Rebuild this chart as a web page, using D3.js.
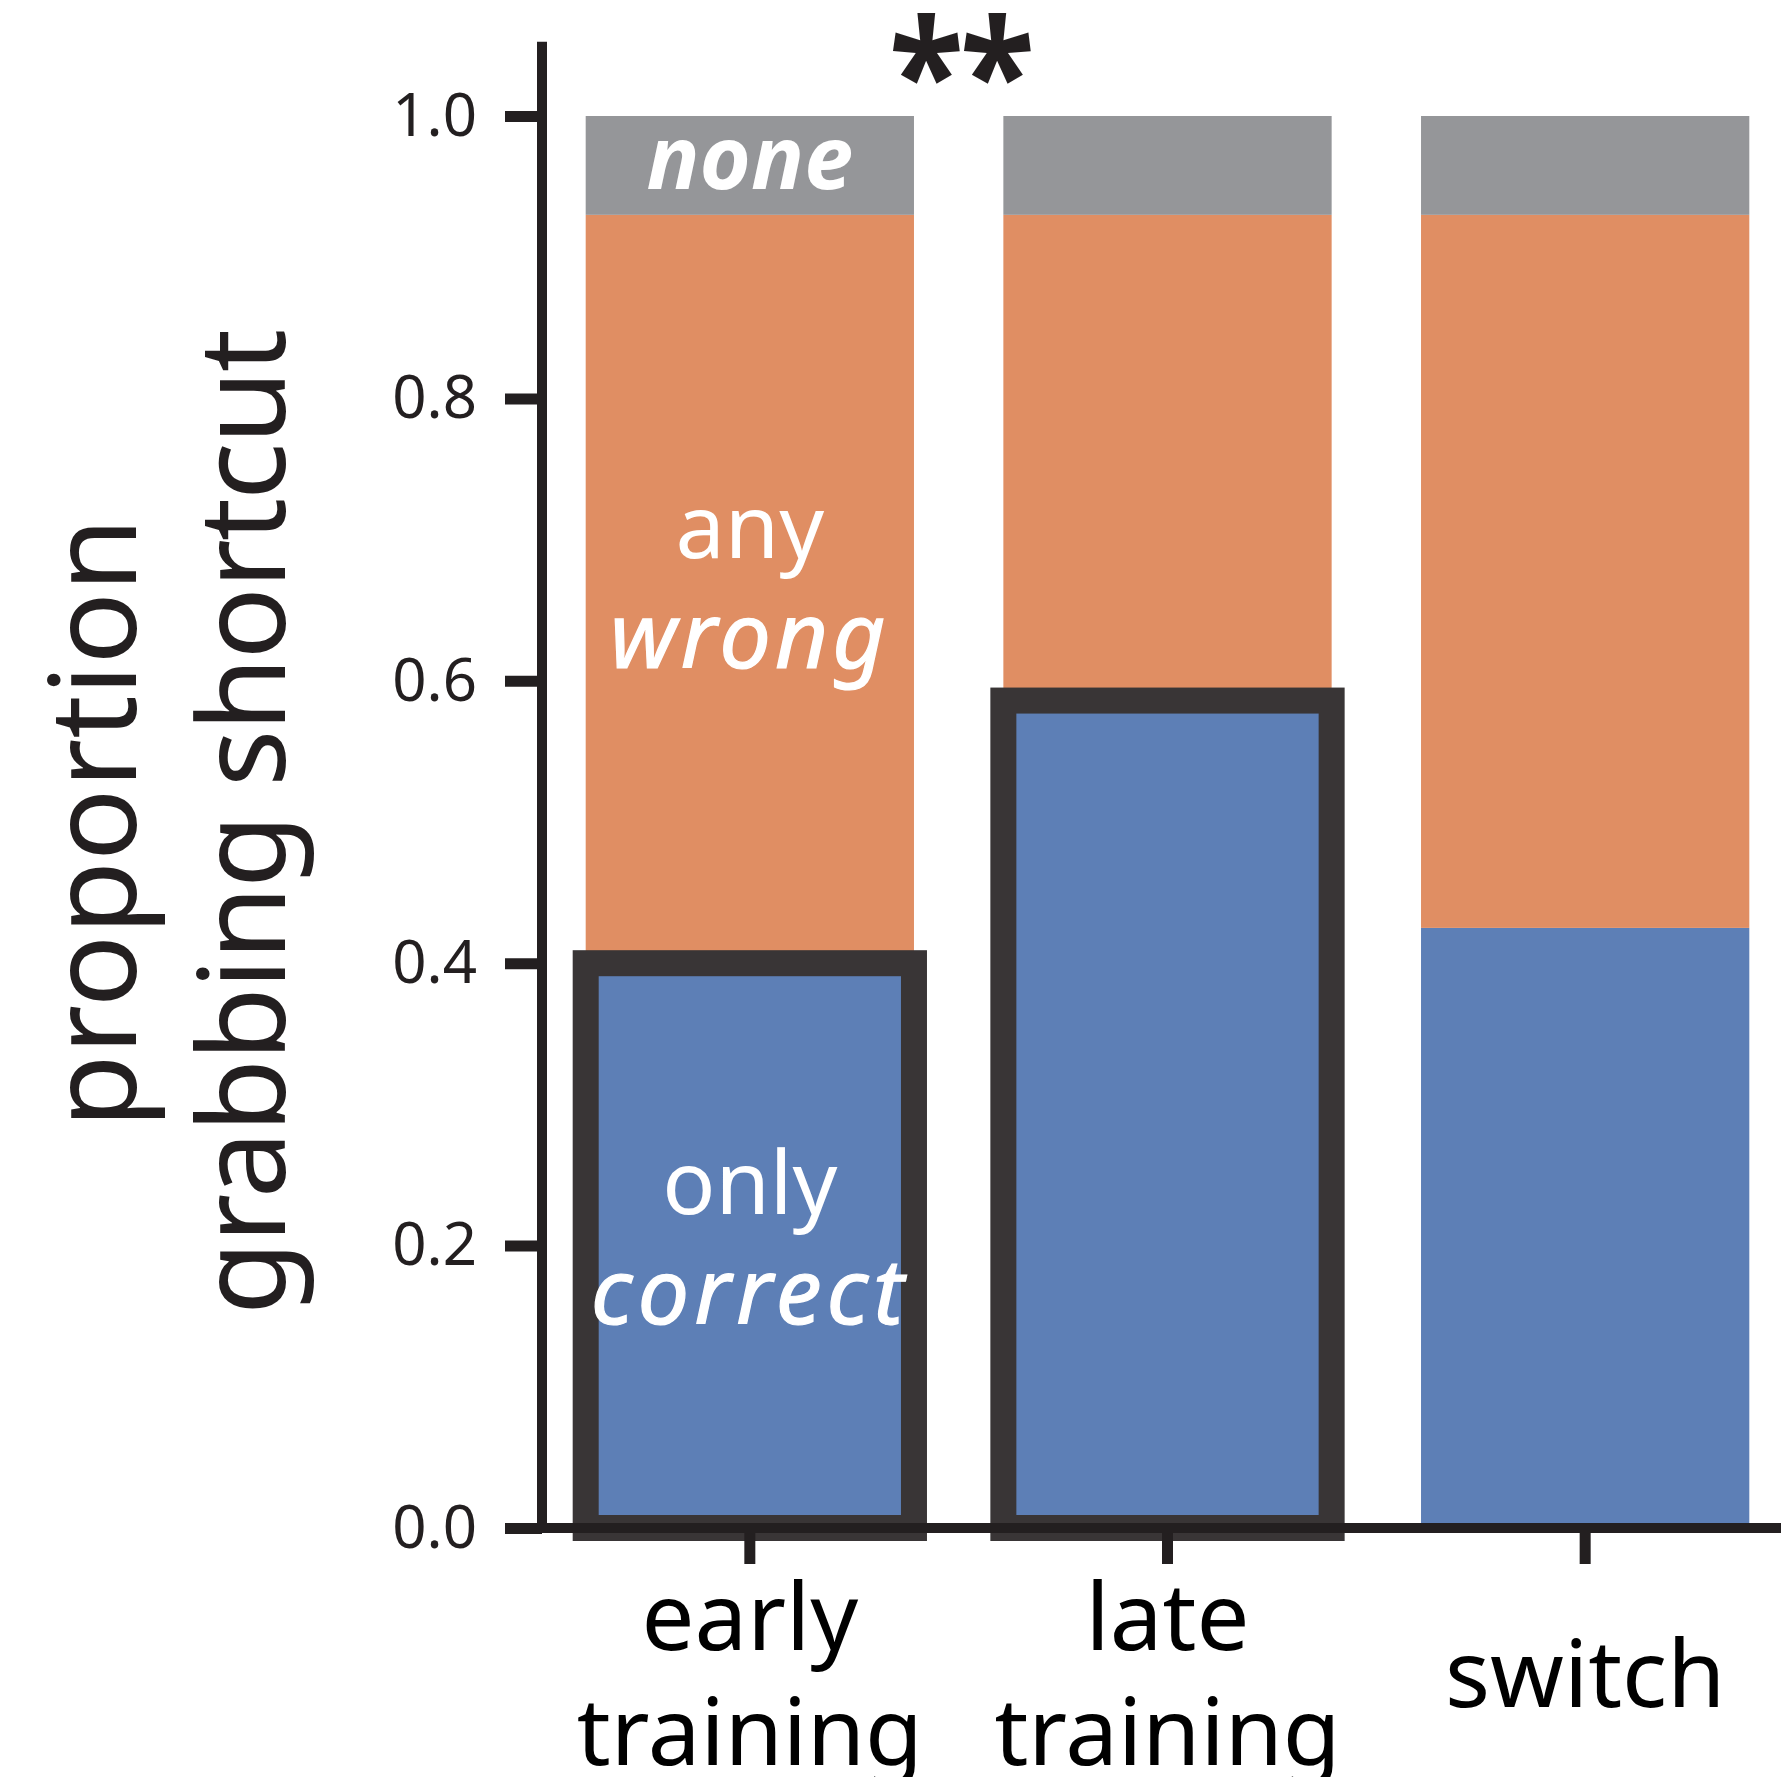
<!DOCTYPE html>
<html>
<head>
<meta charset="utf-8">
<script src="https://cdn.jsdelivr.net/npm/d3@7"></script>
<style>
  html, body { margin: 0; padding: 0; background: #ffffff; }
  svg { display: block; }
</style>
</head>
<body>
<script>
// ---- data ----
const categories = ["early training", "late training", "switch"];
const categoryLines = [["early", "training"], ["late", "training"], ["switch"]];
const onlyCorrect = [0.40, 0.586, 0.425];
const anyWrong = [0.53, 0.344, 0.505];
const noneVals = [0.07, 0.07, 0.07];
const highlighted = [true, true, false];
const yTicks = [0.0, 0.2, 0.4, 0.6, 0.8, 1.0];
const segmentNames = ["only correct", "any wrong", "none"];
const significance = "**";

// ---- layout ----
const W = 1781, H = 1777;
const ink = "#231f20";
const colors = { "only correct": "#5d7fb6", "any wrong": "#e08e63", "none": "#959699" };
const font = "'Noto Sans', 'Open Sans', sans-serif";

const svg = d3.select("body").append("svg").attr("width", W).attr("height", H)
  .style("background", "#fff");

const x = d3.scaleBand().domain(categories).range([541, 1794])
  .paddingInner(0.214).paddingOuter(0.107);
const y = d3.scaleLinear().domain([0, 1]).range([1528, 116]);

// stacked data
const rows = categories.map((c, i) => ({
  cat: c, "only correct": onlyCorrect[i], "any wrong": anyWrong[i], "none": noneVals[i], hl: highlighted[i]
}));
const stack = d3.stack().keys(segmentNames)(rows);

svg.append("g").selectAll("g").data(stack).join("g")
  .attr("fill", d => colors[d.key])
  .selectAll("rect").data(d => d).join("rect")
  .attr("x", d => x(d.data.cat))
  .attr("width", x.bandwidth())
  .attr("y", d => y(d[1]))
  .attr("height", d => y(d[0]) - y(d[1]));

// outlines around "only correct" for highlighted bars
svg.append("g").selectAll("rect").data(stack[0].filter(d => d.data.hl)).join("rect")
  .attr("x", d => x(d.data.cat))
  .attr("width", x.bandwidth())
  .attr("y", d => y(d[1]))
  .attr("height", d => y(d[0]) - y(d[1]))
  .attr("fill", "none")
  .attr("stroke", "#393536")
  .attr("stroke-width", 26);

// in-bar annotations (first bar)
const first = categories[0];
const cx = x(first) + x.bandwidth() / 2;
const annGap = 110, xh = 0.27 * 88;
const ann = [
  { seg: 0, lines: [{ t: "only", style: "normal", w: 400, ls: 0, fs: 88 }, { t: "correct", style: "italic", w: 400, ls: 5, fs: 92 }] },
  { seg: 1, lines: [{ t: "any", style: "normal", w: 400, ls: 0, fs: 88 }, { t: "wrong", style: "italic", w: 400, ls: 4, fs: 92 }] },
  { seg: 2, lines: [{ t: "none", style: "italic", w: 700, ls: 0, fs: 88 }] }
];
const annG = svg.append("g").attr("fill", "#fff").style("font-family", font)
  .attr("text-anchor", "middle");
ann.forEach(a => {
  const seg = stack[a.seg][0];
  const mid = y((seg[0] + seg[1]) / 2);
  const n = a.lines.length;
  a.lines.forEach((l, k) => {
    annG.append("text")
      .attr("x", cx)
      .attr("y", mid + (k - (n - 1) / 2) * annGap + xh)
      .attr("font-size", l.fs)
      .attr("letter-spacing", l.ls)
      .style("font-style", l.style)
      .attr("font-weight", l.w)
      .attr("stroke", l.style === "italic" && l.w === 400 ? "#fff" : "none")
      .attr("stroke-width", 1.2)
      .text(l.t);
  });
});

// y axis
const yAxis = svg.append("g").attr("transform", "translate(542,0)")
  .call(d3.axisLeft(y).tickValues(yTicks).tickFormat(d3.format(".1f")).tickSize(37).tickPadding(28));
yAxis.select(".domain").remove();
yAxis.selectAll(".tick line").attr("stroke", ink).attr("stroke-width", 11);
yAxis.selectAll(".tick text").attr("fill", ink).style("font-family", font).attr("font-size", 60);
svg.append("line").attr("x1", 542).attr("x2", 542).attr("y1", y(0) + 5).attr("y2", y(1.0525))
  .attr("stroke", ink).attr("stroke-width", 10);

// x axis
const xAxis = svg.append("g").attr("transform", `translate(0,${y(0)})`)
  .call(d3.axisBottom(x).tickSize(36).tickFormat(""));
xAxis.select(".domain").remove();
xAxis.selectAll(".tick line").attr("stroke", ink).attr("stroke-width", 11);
svg.append("line").attr("x1", 537).attr("x2", W).attr("y1", y(0)).attr("y2", y(0))
  .attr("stroke", ink).attr("stroke-width", 10);

const xl = svg.append("g").style("font-family", font).attr("font-size", 94).attr("fill", "#000")
  .attr("text-anchor", "middle");
categories.forEach((c, i) => {
  const lines = categoryLines[i];
  const center = 1707;
  lines.forEach((l, k) => {
    xl.append("text")
      .attr("x", x(c) + x.bandwidth() / 2)
      .attr("y", center + (k - (lines.length - 1) / 2) * 115)
      .text(l);
  });
});

// y label
const yl = svg.append("g").style("font-family", font).attr("font-size", 120).attr("fill", ink)
  .attr("text-anchor", "middle");
yl.append("text").attr("transform", "translate(136,823) rotate(-90)").text("proportion");
yl.append("text").attr("transform", "translate(285,823) rotate(-90)").attr("letter-spacing", -2)
  .text("grabbing shortcut");

// significance
svg.append("text").attr("transform", "translate(960,128) scale(0.92,1)").attr("text-anchor", "middle")
  .style("font-family", font).attr("font-weight", 700).attr("font-size", 150).attr("fill", ink)
  .attr("letter-spacing", -4)
  .text(significance);
</script>
</body>
</html>
